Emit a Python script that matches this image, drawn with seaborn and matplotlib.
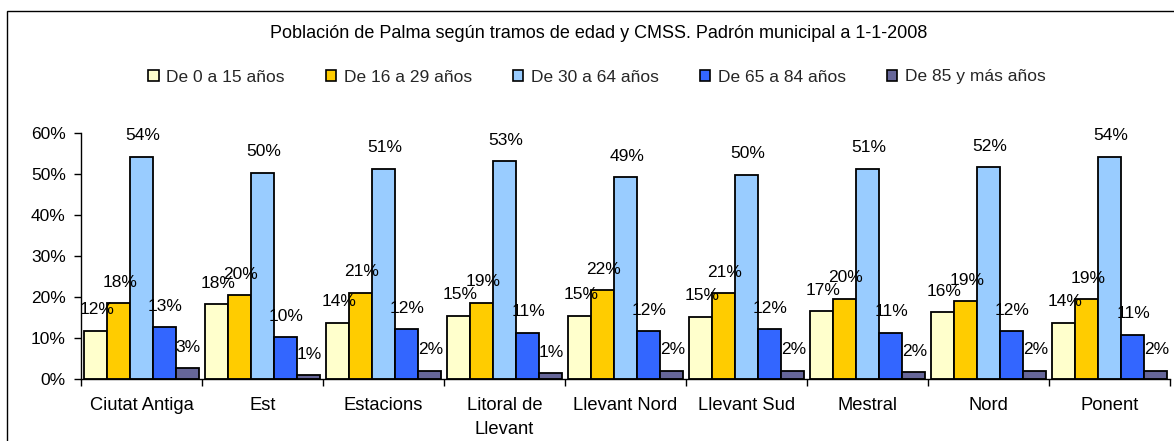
import matplotlib
matplotlib.use("Agg")
import matplotlib.pyplot as plt
from matplotlib.patches import Rectangle, Patch
from matplotlib.ticker import FuncFormatter, FixedLocator
import numpy as np
import pandas as pd
import seaborn as sns

# Population share (%) by age bracket and CMSS district, municipal census 1-1-2008
districts = ["Ciutat Antiga", "Est", "Estacions", "Litoral de\nLlevant",
             "Llevant Nord", "Llevant Sud", "Mestral", "Nord", "Ponent"]
age_groups = ["De 0 a 15 años", "De 16 a 29 años", "De 30 a 64 años",
              "De 65 a 84 años", "De 85 y más años"]
age_0_15 = [11.8, 18.2, 13.7, 15.4, 15.4, 15.2, 16.6, 16.2, 13.7]
age_16_29 = [18.4, 20.4, 21.0, 18.6, 21.6, 20.9, 19.6, 19.0, 19.4]
age_30_64 = [54.2, 50.3, 51.2, 53.1, 49.2, 49.8, 51.2, 51.6, 54.2]
age_65_84 = [12.7, 10.2, 12.2, 11.3, 11.7, 12.2, 11.3, 11.7, 10.8]
age_85_plus = [2.6, 1.0, 2.0, 1.4, 2.0, 2.0, 1.6, 2.0, 2.0]
colors = ["#FFFFCC", "#FFCC00", "#99CCFF", "#3366FF", "#666699"]
title = "Población de Palma según tramos de edad y CMSS. Padrón municipal a 1-1-2008"

series = [age_0_15, age_16_29, age_30_64, age_65_84, age_85_plus]
df = pd.DataFrame(
    [(d, g, v) for g, vals in zip(age_groups, series) for d, v in zip(districts, vals)],
    columns=["distrito", "tramo", "pct"],
)

sns.set_theme(style="white")
plt.rcParams["font.family"] = ["Liberation Sans", "DejaVu Sans"]
FS = 12.5

fig = plt.figure(figsize=(11.74, 4.41), dpi=100)
ax = fig.add_axes([81 / 1174, 1 - 379 / 441, (1170 - 81) / 1174, (379 - 132.7) / 441])

sns.barplot(data=df, x="distrito", y="pct", hue="tramo", order=districts,
            hue_order=age_groups, palette=colors, saturation=1,
            edgecolor="black", linewidth=1.3, width=0.945, gap=0,
            legend=False, ax=ax)

# value labels above each bar
for container, vals in zip(ax.containers, series):
    for bar, v in zip(container, vals):
        ax.annotate(f"{v:.0f}%", (bar.get_x() + bar.get_width() / 2, v),
                    xytext=(0.8, 15), textcoords="offset points",
                    ha="center", va="center", fontsize=FS, color="black")

ax.set_xlim(-0.5, len(districts) - 0.5)
ax.set_ylim(0, 60)
ax.set_yticks(np.arange(0, 61, 10))
ax.yaxis.set_major_formatter(FuncFormatter(lambda v, p: f"{v:.0f}%"))
ax.set_xlabel("")
ax.set_ylabel("")
ax.xaxis.set_minor_locator(FixedLocator(np.arange(-0.5, len(districts), 1)))
ax.tick_params(axis="x", which="major", length=0, pad=13, labelsize=13.2, colors="black")
ax.tick_params(axis="x", which="minor", length=5, width=1, direction="out", color="black", bottom=True)
ax.tick_params(axis="y", which="major", length=5, width=1, direction="out", pad=6,
               labelsize=FS, colors="black", left=True)
for lbl in ax.get_xticklabels():
    lbl.set_linespacing(1.55)

for side in ["top", "right"]:
    ax.spines[side].set_visible(False)
for side in ["left", "bottom"]:
    ax.spines[side].set_color("black")
    ax.spines[side].set_linewidth(1.0)
ax.grid(False)

fig.text(599 / 1174, 1 - 33 / 441, title, ha="center", va="center", fontsize=13, color="black")

handles = [Patch(facecolor=c, edgecolor="black", linewidth=1.2) for c in colors]
fig.legend(handles, age_groups, loc="center", bbox_to_anchor=(597 / 1174, 1 - 77 / 441),
           ncol=5, frameon=False, fontsize=FS, handlelength=0.6, handleheight=0.6,
           handletextpad=0.45, columnspacing=2.35)

# outer chart frame
fig.patches.append(Rectangle((7 / 1174, -0.2), 1.2, 1.2 - 10.5 / 441,
                             transform=fig.transFigure, fill=False,
                             edgecolor="black", linewidth=1.0))

fig.savefig("out.png", dpi=100)
